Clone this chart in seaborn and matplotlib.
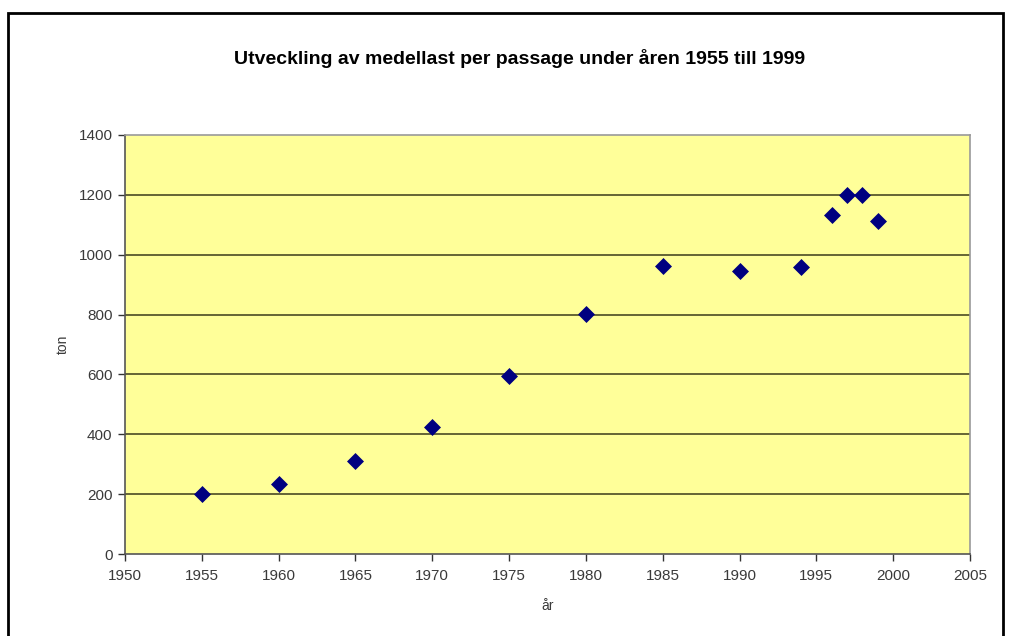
import matplotlib
matplotlib.use("Agg")
import matplotlib.pyplot as plt
import seaborn as sns
import pandas as pd
from matplotlib.patches import Rectangle

# Average load per passage (tonnes) by year
years = [1955, 1960, 1965, 1970, 1975, 1980, 1985, 1990, 1994, 1996, 1997, 1998, 1999]
load_ton = [200, 234, 312, 423, 596, 802, 962, 947, 960, 1133, 1199, 1200, 1114]

x_ticks = [1950, 1955, 1960, 1965, 1970, 1975, 1980, 1985, 1990, 1995, 2000, 2005]
y_ticks = [0, 200, 400, 600, 800, 1000, 1200, 1400]

title = "Utveckling av medellast per passage under åren 1955 till 1999"

df = pd.DataFrame({"år": years, "ton": load_ton})

sns.set_theme(style="white")
plt.rcParams["font.family"] = ["Liberation Sans", "DejaVu Sans"]

fig = plt.figure(figsize=(10.15, 6.36), dpi=100)
ax = fig.add_axes([125 / 1015, 1 - 554 / 636, 845 / 1015, 419 / 636])
ax.set_facecolor("#FFFF99")

sns.scatterplot(data=df, x="år", y="ton", marker="D", s=75, color="#000080",
                edgecolor="#000080", linewidth=0, ax=ax, zorder=3)

ax.set_xlim(1950, 2005)
ax.set_ylim(0, 1400)
ax.set_xticks(x_ticks)
ax.set_yticks(y_ticks)
ax.set_xticklabels([str(t) for t in x_ticks], fontsize=11, color="#3a3a3a")
ax.set_yticklabels([str(t) for t in y_ticks], fontsize=11, color="#3a3a3a")
ax.tick_params(axis="both", direction="out", length=5, width=1, color="#333333", pad=4)
ax.tick_params(axis="x", bottom=True, top=False, pad=6)
ax.tick_params(axis="y", left=True, right=False)

for v in y_ticks[1:-1]:
    ax.axhline(v, color="#3a3a1a", linewidth=1.1, zorder=1)

for side in ["top", "right"]:
    ax.spines[side].set_color("#999999")
    ax.spines[side].set_linewidth(1.2)
for side in ["left", "bottom"]:
    ax.spines[side].set_color("#555555")
    ax.spines[side].set_linewidth(1.2)

ax.set_xlabel("år", fontsize=10, color="#3a3a3a", labelpad=11)
ax.set_ylabel("ton", fontsize=10, color="#3a3a3a", labelpad=6)

fig.text(520 / 1015, 1 - 58 / 636, title, ha="center", va="center",
         fontsize=14, fontweight="bold", color="#000000")

# Outer chart frame
fig.patches.append(Rectangle((8 / 1015, -0.05), 995 / 1015, 1.05 - 13 / 636,
                             transform=fig.transFigure, fill=False,
                             edgecolor="#000000", linewidth=2, clip_on=False))

fig.savefig("out.png", dpi=100)
